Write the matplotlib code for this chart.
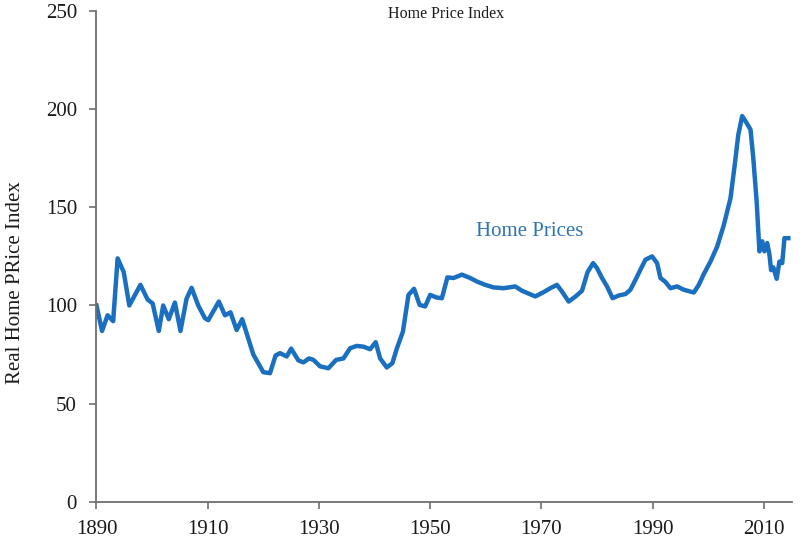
import matplotlib
matplotlib.use("Agg")
import matplotlib.pyplot as plt

years = [1890, 1891, 1892, 1893, 1893.8, 1894.9, 1895.9, 1897.9, 1899.2, 1900.1,
         1901.2, 1902, 1903, 1904.1, 1905.1, 1906.2, 1907.1, 1908.3, 1909.5, 1910.1,
         1912, 1913.1, 1914.1, 1915.2, 1916.2, 1918.2, 1920, 1921.2, 1922.2, 1923,
         1924.2, 1925, 1926.3, 1927.2, 1928.2, 1929, 1930.2, 1931.7, 1933.1, 1934.4,
         1935.6, 1936.8, 1938, 1939.2, 1940.2, 1941, 1942.2, 1943.2, 1944, 1945.1,
         1946.1, 1947.1, 1948.1, 1949.1, 1950, 1951.1, 1952.1, 1953.1, 1954.2, 1955.7,
         1957.2, 1958.4, 1959.9, 1961.4, 1963.2, 1965.3, 1966.5, 1968.9, 1970.4, 1971.6,
         1972.8, 1973.7, 1974.9, 1976.1, 1977.3, 1978.3, 1979.3, 1980, 1980.9, 1981.8,
         1982.8, 1983.9, 1985.1, 1986, 1986.9, 1987.8, 1988.7, 1989.9, 1990.8, 1991.4,
         1992.3, 1993.2, 1994.4, 1995.6, 1997.4, 1998.3, 1999.2, 2000.4, 2001.6, 2002.8,
         2004.0, 2004.8, 2005.4, 2006.1, 2006.9, 2007.6, 2008.1, 2008.7, 2009.2, 2009.7,
         2010.1, 2010.6, 2011.0, 2011.3, 2011.7, 2012.3, 2012.8, 2013.3, 2013.7, 2014.4]
home_price = [100, 87, 95, 92, 124, 117, 100, 110.5, 103, 101,
              87, 100, 93, 101.5, 87, 103.5, 109, 100, 93.5, 92.5,
              102, 95, 96.5, 87.5, 93, 75, 66, 65.5, 74.5, 75.7,
              74, 78, 72, 71, 73, 72.3, 69, 68, 72.3, 73,
              78.2, 79.4, 79, 77.7, 81.3, 73, 68.4, 70.6, 78, 86.7,
              105.4, 108.5, 100.3, 99.5, 105.4, 104.1, 103.7, 114.3, 114, 115.7,
              114, 112.2, 110.5, 109.2, 108.8, 109.7, 107.5, 104.6, 106.8, 108.8,
              110.5, 107.1, 102, 104.5, 107.5, 117, 121.6, 119, 114, 109.7,
              103.7, 105.1, 105.8, 108, 113, 118.2, 123.3, 125, 121.6, 114,
              112, 108.8, 109.7, 108, 106.6, 110.5, 116, 122.4, 130, 141,
              154.7, 172.6, 187, 196.5, 193, 189.6, 175, 153, 127.6, 132.7,
              127.6, 131.8, 126, 118, 119.4, 113.6, 122.4, 121.6, 134.3, 134.3]

x_ticks = [1890, 1910, 1930, 1950, 1970, 1990, 2010]
y_ticks = [0, 50, 100, 150, 200, 250]

plt.rcParams['font.family'] = ['Liberation Serif', 'DejaVu Serif']

fig = plt.figure(figsize=(8, 5.5), dpi=100)
ax = fig.add_axes([0.1206, 0.0878, 0.869, 0.892])

ax.plot(years, home_price, color='#1a6fc0', linewidth=3.2, solid_joinstyle='round')

ax.set_xlim(1890, 2015)
ax.set_ylim(0, 250)
ax.set_xticks(x_ticks)
ax.set_yticks(y_ticks)

for s in ['top', 'right']:
    ax.spines[s].set_visible(False)
for s in ['left', 'bottom']:
    ax.spines[s].set_color('#6e6e6e')
    ax.spines[s].set_linewidth(1.3)

ax.tick_params(axis='both', direction='out', length=5, width=1.2, color='#6e6e6e',
               labelsize=15, labelcolor='#1a1a1a')
ax.tick_params(axis='y', pad=9)
ax.tick_params(axis='x', pad=8)

ax.set_ylabel('Real Home PRice Index', fontsize=15, color='#1a1a1a')
ax.yaxis.set_label_coords(-0.103, 0.446)

fig.text(0.5575, 0.975, 'Home Price Index', ha='center', va='center', fontsize=11.5,
         color='#1a1a1a')

ax.text(1967.9, 137.9, 'Home Prices', ha='center', va='center', fontsize=15,
        color='#2e75b6')

fig.savefig('out.png', dpi=100)
